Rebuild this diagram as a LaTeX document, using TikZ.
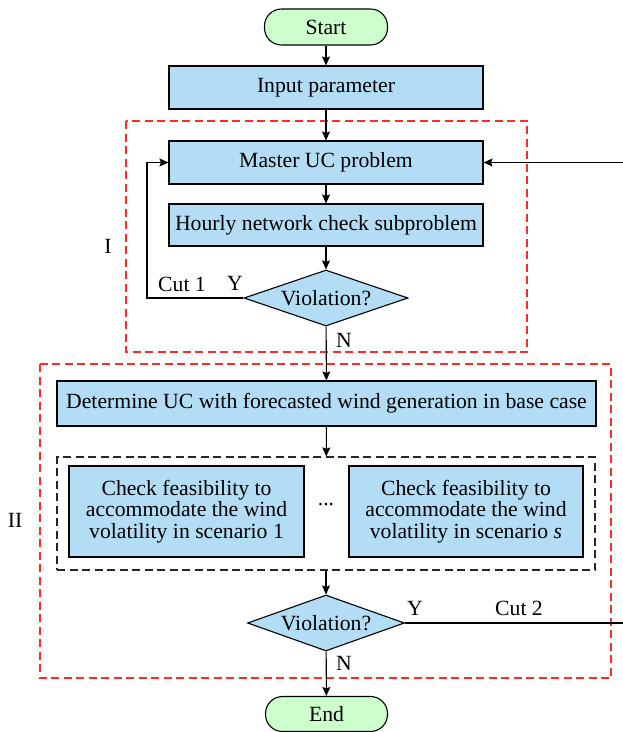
\documentclass[tikz,border=0pt]{standalone}
\usepackage{fontspec}
\setmainfont{Liberation Serif}
\usetikzlibrary{shapes.geometric,arrows.meta}
\definecolor{boxblue}{HTML}{B3DDF5}
\definecolor{pillgreen}{HTML}{CCFFCC}
\definecolor{dashred}{HTML}{FF2A2A}
\begin{document}
\begin{tikzpicture}[x=1pt,y=-1pt,
  every node/.style={font=\fontsize{21.7}{21.7}\selectfont},
  procbox/.style={draw=black,fill=boxblue,line width=1.1pt,rectangle,inner sep=0pt,align=center},
  pill/.style={draw=black,fill=pillgreen,line width=1.1pt,rectangle,rounded corners=17pt,inner sep=0pt},
  decide/.style={draw=black,fill=boxblue,line width=1.1pt,diamond,inner sep=0pt},
  redgroup/.style={draw=dashred,line width=1.2pt,dash pattern=on 8pt off 4.5pt},
  blackgroup/.style={draw=black!85,line width=1.2pt,dash pattern=on 8pt off 4.5pt,rectangle,inner sep=0pt},
  flow/.style={line width=1.1pt,-{Stealth[length=9pt,width=8pt,inset=1.5pt]}},
  lbl/.style={inner sep=0pt}
]
\useasboundingbox (0,0) rectangle (623,732);
% group frames
\draw[redgroup] (126,121) rectangle (527,352);
\draw[redgroup] (40,364) rectangle (611,678);
\node[blackgroup,minimum width=538pt,minimum height=113pt] (grp) at (326,513.5) {};
% nodes
\node[pill,minimum width=123pt,minimum height=36pt] (start) at (326,27) {Start};
\node[procbox,minimum width=314pt,minimum height=43pt] (input) at (326,87.5) {Input parameter};
\node[procbox,minimum width=314pt,minimum height=43pt] (master) at (326,162.5) {Master UC problem};
\node[procbox,minimum width=314pt,minimum height=42pt] (hourly) at (326,225) {Hourly network check subproblem};
\node[decide,shape aspect=2.93,minimum width=164pt,minimum height=56pt] (dia1) at (326,298) {Violation?};
\node[procbox,minimum width=539pt,minimum height=45pt] (det) at (326.5,403.5) {Determine UC with forecasted wind generation in base case};
\node[procbox,minimum width=235pt,minimum height=91pt] (chk1) at (186.5,511.5) {Check feasibility to\\accommodate the wind\\volatility in scenario 1};
\node[procbox,minimum width=234pt,minimum height=91pt] (chks) at (466,511.5) {Check feasibility to\\accommodate the wind\\volatility in scenario \textit{s}};
\node[lbl] (dots) at (326,505) {...};
\node[decide,shape aspect=2.8,minimum width=157pt,minimum height=56pt] (dia2) at (326,623) {Violation?};
\node[pill,minimum width=122pt,minimum height=35pt] (end) at (326.5,714) {End};
% labels
\node[lbl] (labI) at (108,246) {I};
\node[lbl] (labII) at (15,520) {II};
\node[lbl] (cut1) at (182,284) {Cut 1};
\node[lbl] (y1) at (235,283) {Y};
\node[lbl] (n1) at (344,340) {N};
\node[lbl] (y2) at (415,608) {Y};
\node[lbl] (cut2) at (519,608) {Cut 2};
\node[lbl] (n2) at (344,663) {N};
% connectors
\coordinate (lft) at (147,298);
\coordinate (rgt) at (625,623);
\draw[flow] (start) -- (input);
\draw[flow] (input) -- (master);
\draw[flow] (master) -- (hourly);
\draw[flow] (hourly) -- (dia1);
\draw[flow] (dia1.west) -- (lft) |- (master.west);
\draw[flow] (dia1) -- (det);
\draw[flow] (det) -- (grp);
\draw[flow] (grp) -- (dia2);
\draw[flow] (dia2) -- (end);
\draw[flow] (dia2.east) -- (rgt) |- (master.east);
\end{tikzpicture}
\end{document}
